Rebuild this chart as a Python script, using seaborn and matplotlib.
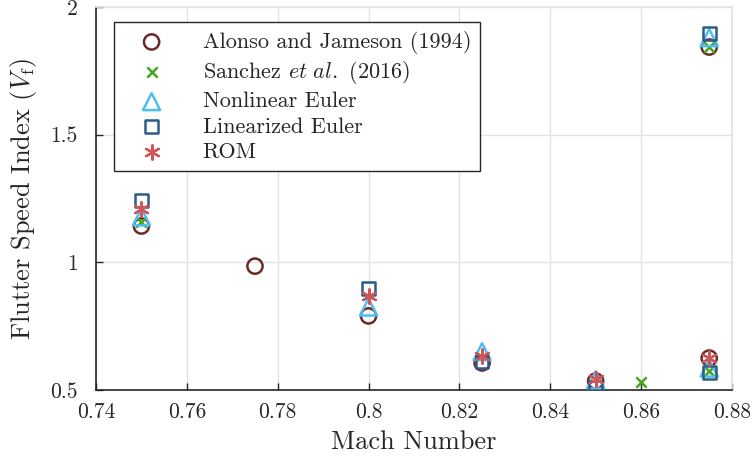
import matplotlib
matplotlib.use("Agg")
import matplotlib.pyplot as plt
import seaborn as sns
import pandas as pd

# Data
alonso_mach = [0.75, 0.775, 0.80, 0.825, 0.85, 0.875, 0.875]
alonso_vf = [1.142, 0.985, 0.790, 0.606, 0.535, 1.843, 0.625]

sanchez_mach = [0.75, 0.86, 0.875, 0.875]
sanchez_vf = [1.158, 0.530, 1.843, 0.575]

nonlin_mach = [0.75, 0.80, 0.825, 0.85, 0.875, 0.875]
nonlin_vf = [1.178, 0.825, 0.650, 0.540, 1.880, 0.586]

lin_mach = [0.75, 0.80, 0.825, 0.85, 0.875, 0.875]
lin_vf = [1.243, 0.898, 0.610, 0.512, 1.897, 0.570]

rom_mach = [0.75, 0.80, 0.825, 0.85, 0.875]
rom_vf = [1.210, 0.868, 0.633, 0.543, 0.625]

labels = ["Alonso and Jameson (1994)",
          r"Sanchez $\mathit{et\ al.}$ (2016)",
          "Nonlinear Euler",
          "Linearized Euler",
          "ROM"]

x_ticks = [0.74, 0.76, 0.78, 0.80, 0.82, 0.84, 0.86, 0.88]
x_tick_labels = ["0.74", "0.76", "0.78", "0.8", "0.82", "0.84", "0.86", "0.88"]
y_ticks = [0.5, 1.0, 1.5, 2.0]
y_tick_labels = ["0.5", "1", "1.5", "2"]

sns.set_theme(style="white")
plt.rcParams["font.family"] = ["cmr10", "DejaVu Serif"]
plt.rcParams["mathtext.fontset"] = "cm"
plt.rcParams["axes.formatter.use_mathtext"] = True
plt.rcParams["axes.unicode_minus"] = False

fig = plt.figure(figsize=(7.53, 4.63), dpi=100)
ax = fig.add_axes([0.1275, 0.1577, 0.8445, 0.8273])

c_alonso = "#6b2a2a"
c_sanchez = "#46a51e"
c_nonlin = "#4dbeee"
c_lin = "#2f5b85"
c_rom = "#d05555"

sns.scatterplot(x=alonso_mach, y=alonso_vf, ax=ax, marker="o", s=120,
                facecolors="none", edgecolor=c_alonso, linewidth=1.8,
                label=labels[0], zorder=3)
sns.scatterplot(x=sanchez_mach, y=sanchez_vf, ax=ax, marker="x", s=55,
                color=c_sanchez, linewidth=1.8, label=labels[1], zorder=4)
sns.scatterplot(x=nonlin_mach, y=nonlin_vf, ax=ax, marker="^", s=150,
                facecolors="none", edgecolor=c_nonlin, linewidth=1.8,
                label=labels[2], zorder=5)
sns.scatterplot(x=lin_mach, y=lin_vf, ax=ax, marker="s", s=85,
                facecolors="none", edgecolor=c_lin, linewidth=1.8,
                label=labels[3], zorder=6)
sns.scatterplot(x=rom_mach, y=rom_vf, ax=ax, marker=(6, 2, 0), s=110,
                color=c_rom, edgecolor=c_rom, linewidth=1.6,
                label=labels[4], zorder=7)

ax.set_xlim(0.74, 0.88)
ax.set_ylim(0.5, 2.0)
ax.set_xticks(x_ticks)
ax.set_xticklabels(x_tick_labels)
ax.set_yticks(y_ticks)
ax.set_yticklabels(y_tick_labels)
ax.grid(True, color="#e3e3e3", linewidth=1.0)
ax.set_axisbelow(True)

for s in ["top", "right"]:
    ax.spines[s].set_color("#e3e3e3")
for s in ["left", "bottom"]:
    ax.spines[s].set_color("#262626")
    ax.spines[s].set_linewidth(1.2)

ax.tick_params(axis="both", direction="in", length=5, width=1.0,
               colors="#262626", labelsize=15.5, labelcolor="#262626",
               bottom=True, left=True)
ax.tick_params(axis="y", pad=13)
ax.tick_params(axis="x", pad=9)
ax.set_xlabel("Mach Number", fontsize=19, color="#262626", labelpad=6)
ax.set_ylabel(r"Flutter Speed Index ($V_\mathrm{f}$)", fontsize=19,
              color="#262626", labelpad=8)

leg = ax.legend(loc="upper left", bbox_to_anchor=(0.028, 0.961), fontsize=16,
                frameon=True, fancybox=False, edgecolor="#262626",
                handletextpad=1.0, borderpad=0.4, labelspacing=0.25,
                borderaxespad=0.0, handlelength=2.6)
leg.get_frame().set_linewidth(1.0)
leg.get_frame().set_facecolor("white")
leg.get_frame().set_alpha(1.0)

fig.savefig("out.png", dpi=100)
